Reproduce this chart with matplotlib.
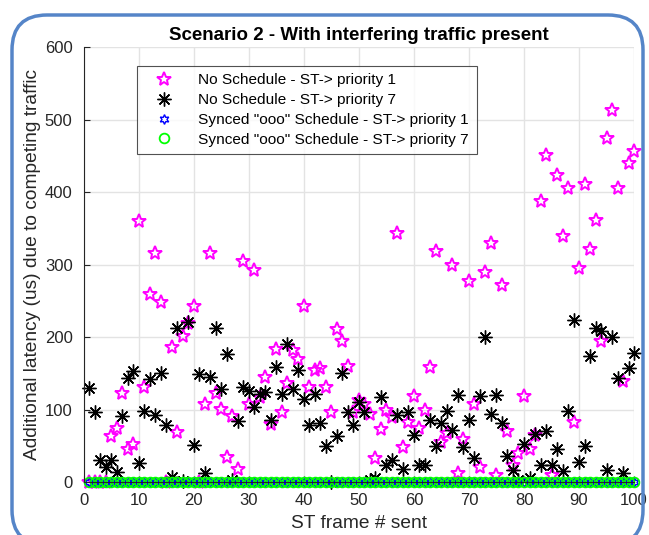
import matplotlib
matplotlib.use("Agg")
import matplotlib.pyplot as plt
from matplotlib.patches import FancyBboxPatch
import numpy as np

plt.rcParams['font.family'] = ['Liberation Sans', 'DejaVu Sans']

# frame index 1..100
frames = np.arange(1, 101)

# No Schedule - ST-> priority 1 (magenta stars)
no_sched_p1 = [
    0, 0, 0, 0, 64, 74, 123, 45, 52, 360,
    131, 260, 316, 248, 0, 186, 69, 202, 220, 243,
    0, 108, 316, 123, 101, 34, 91, 18, 305, 107,
    292, 117, 145, 80, 183, 97, 137, 182, 170, 243,
    131, 154, 157, 131, 96, 211, 194, 160, 97, 113,
    108, 94, 33, 73, 99, 90, 343, 49, 83, 119,
    75, 99, 159, 319, 55, 68, 299, 13, 59, 277,
    108, 21, 290, 330, 10, 272, 71, 23, 40, 119,
    46, 65, 388, 451, 10, 424, 340, 405, 83, 295,
    411, 321, 361, 194, 475, 513, 405, 140, 440, 456,
]

# No Schedule - ST-> priority 7 (black asterisks)
no_sched_p7 = [
    130, 97, 30, 21, 30, 14, 91, 143, 153, 26,
    98, 142, 92, 150, 79, 7, 212, 2, 221, 51,
    149, 12, 145, 212, 128, 176, 3, 84, 131, 125,
    104, 122, 124, 85, 158, 121, 190, 129, 154, 114,
    79, 122, 82, 50, 0, 64, 150, 96, 79, 110,
    97, 3, 5, 117, 24, 31, 92, 18, 96, 65,
    23, 23, 85, 50, 81, 98, 72, 120, 49, 85,
    33, 118, 200, 94, 120, 81, 36, 17, 3, 52,
    5, 66, 23, 71, 23, 45, 15, 98, 223, 28,
    50, 174, 213, 209, 17, 200, 143, 13, 157, 178,
]

# Synced "ooo" schedule: no added latency
synced_p1 = np.zeros(100)
synced_p7 = np.zeros(100)

labels = [
    'No Schedule - ST-> priority 1',
    'No Schedule - ST-> priority 7',
    'Synced "ooo" Schedule - ST-> priority 1',
    'Synced "ooo" Schedule - ST-> priority 7',
]

fig = plt.figure(figsize=(6.49, 5.35), dpi=100)
ax = fig.add_axes([0.129, 0.099, 0.848, 0.813])

ax.plot(frames, no_sched_p1, linestyle='none', marker='*', markersize=10,
        markerfacecolor='none', markeredgecolor='#ff00ff', markeredgewidth=1.4,
        label=labels[0], clip_on=False)
ax.plot(frames, no_sched_p7, linestyle='none', marker=(8, 2, 0), markersize=10,
        color='black', markeredgewidth=1.0, label=labels[1], clip_on=False)
ax.plot(frames, synced_p1, linestyle='none', marker=(6, 1, 0), markersize=7,
        markerfacecolor='none', markeredgecolor='blue', markeredgewidth=1.0,
        label=labels[2], clip_on=False)
ax.plot(frames, synced_p7, linestyle='none', marker='o', markersize=7,
        markerfacecolor='none', markeredgecolor='#00ff00', markeredgewidth=1.3,
        label=labels[3], clip_on=False)

ax.set_xlim(0, 100)
ax.set_ylim(0, 600)
ax.set_xticks(np.arange(0, 101, 10))
ax.set_yticks(np.arange(0, 601, 100))
ax.grid(True, color='#e3e3e3', linewidth=1.0)
ax.set_axisbelow(True)
for side in ['top', 'right']:
    ax.spines[side].set_visible(False)
for side in ['left', 'bottom']:
    ax.spines[side].set_color('#262626')
    ax.spines[side].set_linewidth(0.8)
ax.tick_params(direction='in', length=4, colors='#262626', labelsize=12, pad=8)

ax.set_title('Scenario 2 - With interfering traffic present', fontsize=13.5,
             fontweight='bold', pad=5)
ax.set_xlabel('ST frame # sent', fontsize=13.8, color='#262626', labelpad=5)
ax.set_ylabel('Additional latency (us) due to competing traffic', fontsize=13.8,
              color='#262626', labelpad=3)

leg = ax.legend(loc='upper left', bbox_to_anchor=(0.096, 0.957), fontsize=11.1,
                frameon=True, fancybox=False, edgecolor='#262626',
                handletextpad=0.9, borderpad=0.5, labelspacing=0.37,
                handlelength=2.6, borderaxespad=0)
leg.get_frame().set_linewidth(0.8)

# rounded blue frame around the whole figure
border = FancyBboxPatch((0.12, -0.1), 6.31, 5.3,
                        boxstyle='round,pad=0,rounding_size=0.35',
                        transform=fig.dpi_scale_trans, facecolor='none',
                        edgecolor='#5585c8', linewidth=2.5, zorder=0)
fig.patches.append(border)

fig.savefig('out.png', dpi=100)
